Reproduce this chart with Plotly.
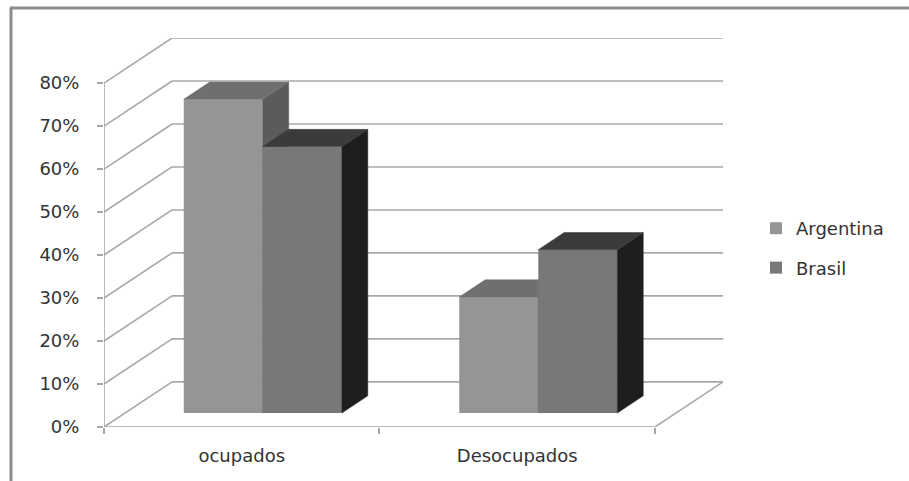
import plotly.graph_objects as go

# ---------------- data ----------------
categories = ["ocupados", "Desocupados"]
series_names = ["Argentina", "Brasil"]
argentina = [73, 27]
brasil = [62, 38]
y_ticks = [0, 10, 20, 30, 40, 50, 60, 70, 80]
y_tick_labels = ["0%", "10%", "20%", "30%", "40%", "50%", "60%", "70%", "80%"]

# ---------------- style / geometry ----------------
front_colors = ["#959597", "#78787a"]
top_colors = ["#6f6f71", "#3b3b3c"]
side_colors = ["#5b5b5d", "#1f1d1e"]
grid_color = "#a8a8a8"
text_color = "#333333"
FONT = "DejaVu Sans"
FS = 18

DX = 0.247      # oblique depth offset (x, category units)
DY = 10.5       # oblique depth offset (y, value units)
D0, D1 = 0.31, 0.69   # bar depth span (fraction of floor depth)
BW = 0.287      # bar width in category units
X0 = -0.5
X1 = len(categories) - 0.5
YTOP = y_ticks[-1]

W, H = 909, 481
ML, MR, MT, MB = 104, 186, 38, 54

fig = go.Figure()

# ---------------- walls / grid (base subplot) ----------------
gx, gy = [], []
for v in y_ticks:
    gx += [X0, X0 + DX, None]
    gy += [v, v + DY, None]
    gx += [X0 + DX, X1 + DX, None]
    gy += [v + DY, v + DY, None]
gx += [X0, X1, X1 + DX, None]
gy += [0, 0, DY, None]
gx += [X0, X0, None]
gy += [0, YTOP, None]
fig.add_trace(go.Scatter(x=gx, y=gy, mode="lines",
                         line=dict(color=grid_color, width=1.6),
                         hoverinfo="skip", showlegend=False, cliponaxis=False,
                         xaxis="x", yaxis="y"))

# ---------------- bars ----------------
all_series = [argentina, brasil]
axis_ids = [("x2", "y2"), ("x3", "y3")]
ddx = (D1 - D0) * DX
ddy = (D1 - D0) * DY
for s, (name, vals) in enumerate(zip(series_names, all_series)):
    xa, ya = axis_ids[s]
    centers = [i + (s - 0.5) * BW + D0 * DX for i in range(len(categories))]
    fig.add_trace(go.Bar(
        x=centers, y=vals, base=[D0 * DY] * len(vals), width=[BW] * len(vals),
        name=name, marker=dict(color=front_colors[s], line=dict(width=0)),
        hoverinfo="skip", xaxis=xa, yaxis=ya, legendgroup=name))
    tx, ty, sx, sy = [], [], [], []
    for c, v in zip(centers, vals):
        fx0, fx1 = c - BW / 2, c + BW / 2
        yb, yt = D0 * DY, v + D0 * DY
        tx += [fx0, fx1, fx1 + ddx, fx0 + ddx, fx0, None]
        ty += [yt, yt, yt + ddy, yt + ddy, yt, None]
        sx += [fx1, fx1 + ddx, fx1 + ddx, fx1, fx1, None]
        sy += [yb, yb + ddy, yt + ddy, yt, yb, None]
    fig.add_trace(go.Scatter(x=sx, y=sy, mode="lines", fill="toself",
                             fillcolor=side_colors[s],
                             line=dict(color=side_colors[s], width=0.5),
                             hoverinfo="skip", showlegend=False,
                             xaxis=xa, yaxis=ya))
    fig.add_trace(go.Scatter(x=tx, y=ty, mode="lines", fill="toself",
                             fillcolor=top_colors[s],
                             line=dict(color=top_colors[s], width=0.5),
                             hoverinfo="skip", showlegend=False,
                             xaxis=xa, yaxis=ya))

xrange = [X0, X1 + DX]
yrange = [0, YTOP + DY]

fig.update_layout(
    width=W, height=H,
    margin=dict(l=ML, r=MR, t=MT, b=MB),
    paper_bgcolor="white", plot_bgcolor="white",
    barmode="overlay",
    font=dict(family=FONT, size=FS, color=text_color),
    xaxis=dict(range=xrange, tickmode="array",
               tickvals=list(range(len(categories))), ticktext=categories,
               ticks="", showgrid=False, zeroline=False, showline=False,
               ticklabelstandoff=16, fixedrange=True,
               minor=dict(tickmode="array", tickvals=[X0 + k for k in range(len(categories) + 1)],
                          ticks="outside", ticklen=6, tickcolor=grid_color,
                          tickwidth=1.5, showgrid=False)),
    yaxis=dict(range=yrange, tickmode="array", tickvals=y_ticks,
               ticktext=y_tick_labels, ticks="outside", ticklen=6,
               tickcolor=grid_color, tickwidth=1.5,
               showgrid=False, zeroline=False, showline=False,
               ticklabelstandoff=14, fixedrange=True),
    xaxis2=dict(range=xrange, overlaying="x", visible=False, fixedrange=True),
    yaxis2=dict(range=yrange, overlaying="y", visible=False, fixedrange=True),
    xaxis3=dict(range=xrange, overlaying="x", visible=False, fixedrange=True),
    yaxis3=dict(range=yrange, overlaying="y", visible=False, fixedrange=True),
    legend=dict(x=(756 - ML) / (W - ML - MR), y=(H - MB - 248) / (H - MT - MB),
                xanchor="left", yanchor="middle", traceorder="grouped",
                tracegroupgap=13, font=dict(size=FS, color=text_color),
                bgcolor="rgba(0,0,0,0)", itemwidth=30),
    shapes=[
        dict(type="line", xref="paper", yref="paper",
             x0=(10 - ML) / (W - ML - MR), x1=(W - ML) / (W - ML - MR),
             y0=(H - MB - 8) / (H - MT - MB), y1=(H - MB - 8) / (H - MT - MB),
             line=dict(color="#8c8c8c", width=3)),
        dict(type="line", xref="paper", yref="paper",
             x0=(11 - ML) / (W - ML - MR), x1=(11 - ML) / (W - ML - MR),
             y0=(H - MB - 8) / (H - MT - MB), y1=(H - MB - H) / (H - MT - MB),
             line=dict(color="#8c8c8c", width=3)),
    ],
)

fig.write_html("out.html")
